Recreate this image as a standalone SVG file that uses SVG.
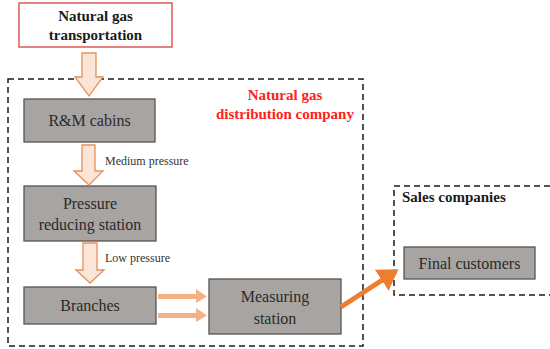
<svg xmlns="http://www.w3.org/2000/svg" width="550" height="349" viewBox="0 0 550 349">
<style>
.node{fill:#a8a4a2;stroke:#555;stroke-width:1.3}
.nt{font-size:16px;fill:#2a2a2a;text-anchor:middle}
.bt{font-size:15px;font-weight:bold;fill:#1a1a1a}
.red{fill:#ff2020;text-anchor:middle}
.lbl{font-size:12px;fill:#333}
.dash{fill:none;stroke:#1a1a1a;stroke-width:1.5;stroke-dasharray:6,4}
.block{fill:#fbe5d6;stroke:#e6915a;stroke-width:1.3}
.thin{stroke:#f4b183;stroke-width:5;fill:none}
.thinh{fill:#f4b183}
</style>
<defs>
<marker id="big" markerWidth="5" markerHeight="5" refX="3.4" refY="2.5" orient="auto" markerUnits="strokeWidth">
<path d="M0,0 L4,2.5 L0,5 Z" fill="#ed7d31"/>
</marker>
</defs>
<g font-family="Liberation Serif, DejaVu Serif, serif">
<g id="groups">
<rect class="dash" x="8" y="79" width="355" height="267"/>
<path class="dash" d="M550,186 H394 V295 H550"/>
<text class="bt red" x="285" y="100">Natural gas</text>
<text class="bt red" x="285" y="119">distribution company</text>
<text class="bt" x="402" y="202">Sales companies</text>
</g>
<g id="transport">
<rect x="19" y="3" width="153" height="44" fill="#fff" stroke="#d9403f" stroke-width="1.3"/>
<text class="bt" x="95.5" y="21" text-anchor="middle">Natural gas</text>
<text class="bt" x="95.5" y="40" text-anchor="middle">transportation</text>
</g>
<g id="rm">
<rect class="node" x="24" y="99" width="131" height="43"/>
<text class="nt" x="89.5" y="126">R&amp;M cabins</text>
</g>
<g id="prs">
<rect class="node" x="24" y="186" width="132" height="55"/>
<text class="nt" x="90" y="209">Pressure</text>
<text class="nt" x="90" y="230">reducing station</text>
</g>
<g id="branches">
<rect class="node" x="24" y="287" width="132" height="37"/>
<text class="nt" x="90" y="311">Branches</text>
</g>
<g id="measuring">
<rect class="node" x="209" y="279" width="132" height="55"/>
<text class="nt" x="275" y="302">Measuring</text>
<text class="nt" x="275" y="324">station</text>
</g>
<g id="customers">
<rect class="node" x="404" y="247" width="131" height="32"/>
<text class="nt" x="469.5" y="269">Final customers</text>
</g>
<g id="connectors">
<polygon class="block" points="82,53 96,53 96,77 103,77 89,96 75,77 82,77"/>
<polygon class="block" points="82,145 95,145 95,171 103,171 89,185 74,171 82,171"/>
<polygon class="block" points="83,243 97,243 97,270 104,270 90,283 76,270 83,270"/>
<text class="lbl" x="105" y="165">Medium pressure</text>
<text class="lbl" x="105" y="262">Low pressure</text>
<line class="thin" x1="158" y1="296.5" x2="197" y2="296.5"/>
<polygon class="thinh" points="196,289 207,296.5 196,303"/>
<line class="thin" x1="158" y1="315.5" x2="197" y2="315.5"/>
<polygon class="thinh" points="196,308 207,315.5 196,322"/>
<line x1="341" y1="307" x2="396" y2="271" stroke="#ed7d31" stroke-width="5" marker-end="url(#big)"/>
</g>
</g>
</svg>
